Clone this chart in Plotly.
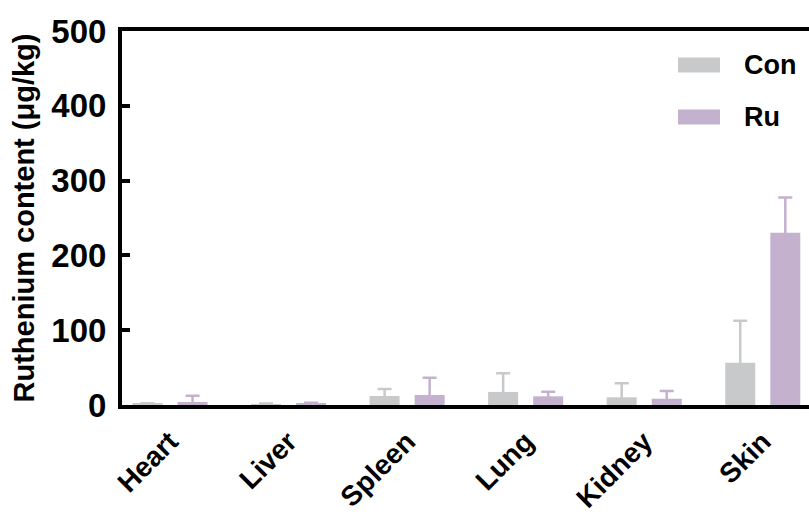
import plotly.graph_objects as go

# Ruthenium content per organ, mean and SD (µg/kg)
organs = ["Heart", "Liver", "Spleen", "Lung", "Kidney", "Skin"]
series_names = ["Con", "Ru"]
con_mean = [1.5, 1.0, 12.0, 17.5, 10.3, 56.6]
con_sd = [1.0, 1.0, 9.5, 25.0, 18.7, 56.0]
ru_mean = [4.0, 2.0, 13.4, 11.6, 8.4, 230.3]
ru_sd = [8.5, 1.0, 23.0, 6.0, 10.3, 47.0]
y_ticks = [0, 100, 200, 300, 400, 500]

CON_COLOR = "#C8C9CA"
RU_COLOR = "#C4B1CE"
FONT = "Arial, 'Liberation Sans', Helvetica, sans-serif"

W, H = 809, 518
M_L, M_R, M_T, M_B = 122, 0, 31, 113

fig = go.Figure()
for name, mean, sd, color in [
    (series_names[0], con_mean, con_sd, CON_COLOR),
    (series_names[1], ru_mean, ru_sd, RU_COLOR),
]:
    fig.add_trace(go.Bar(
        x=organs, y=mean, name=name,
        marker=dict(color=color, line=dict(width=0)),
        error_y=dict(type="data", array=sd, visible=True,
                     color=color, thickness=2.5, width=7),
        showlegend=False,
    ))

# Legend: wide colour swatches with bold labels at the top right
plot_w = W - M_L - M_R
plot_h = H - M_T - M_B


def px_x(px):
    return (px - M_L) / plot_w


def px_y(py):
    return (H - M_B - py) / plot_h


legend_rows = [(series_names[0], CON_COLOR, 65), (series_names[1], RU_COLOR, 117)]
for label, color, cy in legend_rows:
    fig.add_shape(type="rect", xref="paper", yref="paper",
                  x0=px_x(678), x1=px_x(720), y0=px_y(cy + 7.5), y1=px_y(cy - 7.5),
                  fillcolor=color, line=dict(width=0), layer="above")
    fig.add_annotation(xref="paper", yref="paper", x=px_x(742), y=px_y(cy),
                       xanchor="left", yanchor="middle", showarrow=False,
                       text=f"<b>{label}</b>",
                       font=dict(family=FONT, size=27, color="black"))

fig.update_layout(
    width=W, height=H,
    margin=dict(l=M_L, r=M_R, t=M_T, b=M_B, pad=0, autoexpand=False),
    paper_bgcolor="white", plot_bgcolor="white",
    barmode="group", bargap=0.24, bargroupgap=0.334,
    font=dict(family=FONT, color="black"),
)

fig.update_xaxes(
    type="category", range=[-0.405, 5.39], automargin=False,
    showline=True, linewidth=4, linecolor="black", mirror=True,
    showgrid=False, ticks="", tickangle=-45,
    tickfont=dict(family=FONT, size=28, color="black", weight="bold"),
    ticklabelstandoff=5,
    zeroline=False,
)
fig.update_yaxes(
    range=[0, 500], tickvals=y_ticks, automargin=False,
    showline=True, linewidth=4, linecolor="black", mirror=False,
    showgrid=False, zeroline=False,
    ticks="inside", ticklen=8, tickwidth=4, tickcolor="black",
    tickfont=dict(family=FONT, size=33, color="black", weight="bold"),
    ticklabelstandoff=5,
    title=dict(text="<b>Ruthenium content (μg/kg)</b>", standoff=9,
               font=dict(family=FONT, size=29, color="black")),
)

fig.write_html("out.html")
